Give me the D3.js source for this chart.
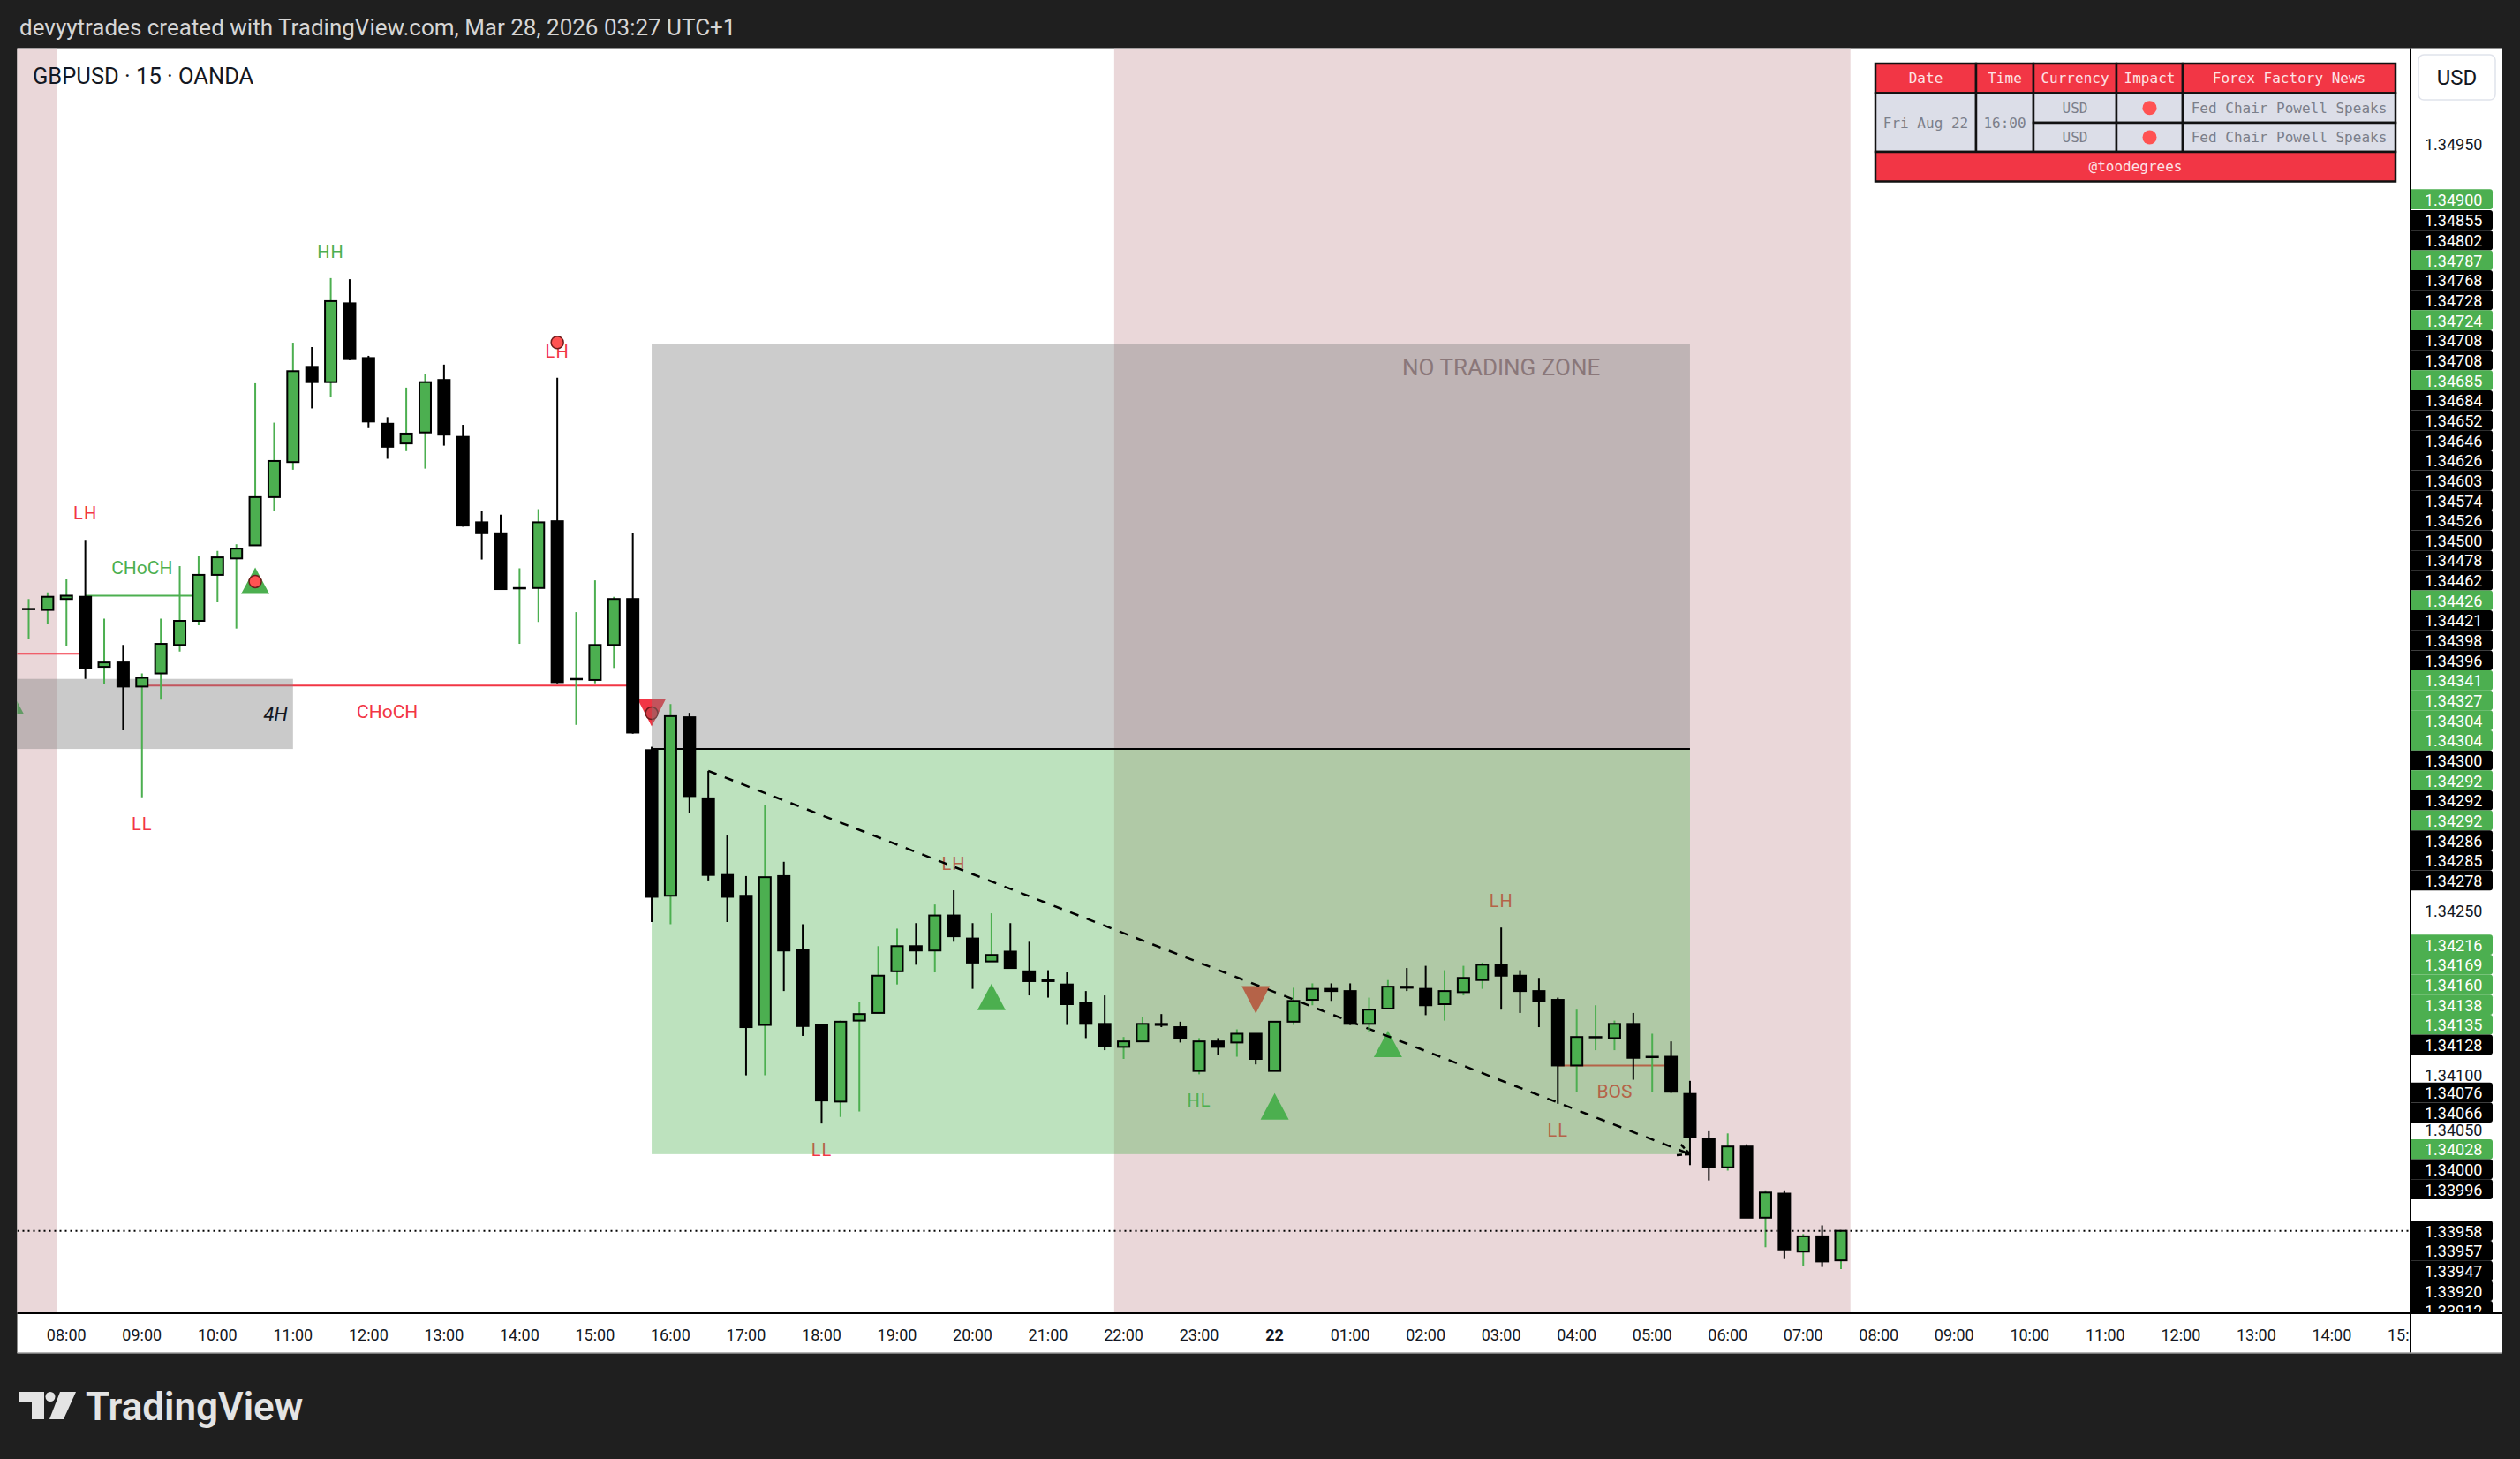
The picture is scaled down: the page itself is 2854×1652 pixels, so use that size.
<!DOCTYPE html>
<html><head><meta charset="utf-8">
<script src="https://cdn.jsdelivr.net/npm/d3@7"></script>
<style>html,body{margin:0;padding:0;background:#1f1f1f;}svg{display:block}</style>
</head><body>
<svg id="c" width="2854" height="1652"></svg>
<script>
// ---------------- DATA ----------------
// 15-minute bars, GBPUSD, bar 0 = Thu 21 Aug 07:30, last bar = Fri 22 Aug 07:30
const FIRST_BAR = Date.UTC(2025, 7, 21, 7, 30);
const BAR_MIN = 15;
const opens  = [1.34526,1.34525,1.34535,1.34537,1.34473,1.34477,1.34455,1.34467,1.34493,1.34515,1.34557,1.34572,1.34584,1.34628,1.34660,1.34747,1.34733,1.34805,1.34755,1.34695,1.34677,1.34687,1.34735,1.34683,1.34605,1.34595,1.34545,1.34545,1.34606,1.34462,1.34461,1.34493,1.34535,1.34397,1.34264,1.34427,1.34353,1.34283,1.34264,1.34146,1.34282,1.34215,1.34146,1.34076,1.34150,1.34157,1.34195,1.34218,1.34214,1.34246,1.34225,1.34204,1.34213,1.34195,1.34187,1.34183,1.34166,1.34147,1.34126,1.34131,1.34147,1.34144,1.34104,1.34131,1.34130,1.34138,1.34104,1.34149,1.34169,1.34179,1.34177,1.34147,1.34161,1.34181,1.34179,1.34165,1.34176,1.34187,1.34201,1.34191,1.34177,1.34169,1.34109,1.34135,1.34134,1.34147,1.34117,1.34117,1.34083,1.34042,1.34016,1.34035,1.33970,1.33992,1.33939,1.33953,1.33931];
const highs  = [1.34535,1.34541,1.34553,1.34589,1.34517,1.34493,1.34467,1.34517,1.34565,1.34574,1.34579,1.34585,1.34732,1.34696,1.34769,1.34765,1.34828,1.34827,1.34757,1.34701,1.34728,1.34740,1.34749,1.34694,1.34615,1.34612,1.34563,1.34617,1.34737,1.34523,1.34552,1.34537,1.34595,1.34400,1.34439,1.34431,1.34378,1.34319,1.34282,1.34347,1.34295,1.34238,1.34146,1.34150,1.34167,1.34218,1.34234,1.34239,1.34256,1.34269,1.34239,1.34248,1.34239,1.34222,1.34196,1.34194,1.34177,1.34173,1.34135,1.34153,1.34156,1.34149,1.34134,1.34134,1.34142,1.34138,1.34149,1.34180,1.34184,1.34184,1.34184,1.34171,1.34187,1.34198,1.34200,1.34196,1.34200,1.34203,1.34235,1.34196,1.34189,1.34171,1.34160,1.34164,1.34150,1.34157,1.34138,1.34131,1.34095,1.34049,1.34047,1.34037,1.33995,1.33995,1.33955,1.33963,1.33958];
const lows   = [1.34498,1.34512,1.34492,1.34462,1.34457,1.34415,1.34354,1.34443,1.34487,1.34511,1.34532,1.34508,1.34584,1.34615,1.34653,1.34709,1.34719,1.34753,1.34691,1.34663,1.34670,1.34654,1.34675,1.34601,1.34571,1.34544,1.34494,1.34514,1.34458,1.34420,1.34458,1.34472,1.34412,1.34240,1.34238,1.34340,1.34278,1.34240,1.34100,1.34100,1.34177,1.34136,1.34056,1.34062,1.34067,1.34157,1.34183,1.34201,1.34194,1.34222,1.34179,1.34204,1.34198,1.34173,1.34171,1.34146,1.34134,1.34123,1.34115,1.34131,1.34144,1.34130,1.34101,1.34119,1.34117,1.34110,1.34104,1.34146,1.34164,1.34168,1.34146,1.34140,1.34161,1.34177,1.34155,1.34150,1.34173,1.34179,1.34160,1.34157,1.34144,1.34074,1.34085,1.34123,1.34123,1.34096,1.34085,1.34084,1.34018,1.34004,1.34013,1.33970,1.33943,1.33933,1.33926,1.33925,1.33923];
const closes = [1.34526,1.34537,1.34538,1.34472,1.34477,1.34455,1.34463,1.34494,1.34515,1.34557,1.34573,1.34581,1.34628,1.34661,1.34743,1.34733,1.34807,1.34754,1.34697,1.34674,1.34686,1.34733,1.34685,1.34602,1.34595,1.34544,1.34545,1.34605,1.34459,1.34462,1.34493,1.34535,1.34413,1.34263,1.34428,1.34355,1.34283,1.34263,1.34144,1.34281,1.34214,1.34145,1.34077,1.34149,1.34156,1.34191,1.34218,1.34214,1.34246,1.34227,1.34203,1.34210,1.34198,1.34186,1.34186,1.34165,1.34147,1.34127,1.34131,1.34147,1.34146,1.34134,1.34131,1.34126,1.34138,1.34115,1.34149,1.34168,1.34179,1.34177,1.34147,1.34160,1.34181,1.34180,1.34164,1.34177,1.34189,1.34201,1.34191,1.34177,1.34168,1.34109,1.34135,1.34135,1.34147,1.34116,1.34117,1.34085,1.34044,1.34016,1.34035,1.33970,1.33993,1.33941,1.33953,1.33930,1.33958];

const lastPrice = 1.33958;

// price-scale labels (indicator levels), top to bottom; G = green tag, B = black tag
const tagValues = [1.34900,1.34855,1.34802,1.34787,1.34768,1.34728,1.34724,1.34708,1.34708,1.34685,1.34684,1.34652,1.34646,1.34626,1.34603,1.34574,1.34526,1.34500,1.34478,1.34462,1.34426,1.34421,1.34398,1.34396,1.34341,1.34327,1.34304,1.34304,1.34300,1.34292,1.34292,1.34292,1.34286,1.34285,1.34278,1.34216,1.34169,1.34160,1.34138,1.34135,1.34128,1.34076,1.34066,1.34028,1.34000,1.33996,1.33958,1.33957,1.33947,1.33920,1.33912];
const tagKinds  = ["G","B","B","G","B","B","G","B","B","G","B","B","B","B","B","B","B","B","B","B","G","B","B","B","G","G","G","G","B","G","B","G","B","B","B","G","G","G","G","G","B","B","B","G","B","B","B","B","B","B","B"];
const priceTickStep = 0.0005;

// sessions shaded (first bar index, last bar index)
const sessionStart = [-3, 58];
const sessionEnd   = [1, 96];

// swing labels
const swingBars   = [3, 6, 16, 28, 42, 49, 62, 78, 81];
const swingTexts  = ["LH","LL","HH","LH","LL","LH","HL","LH","LL"];

// structure breaks
const structText  = ["CHoCH","CHoCH","BOS"];
const structFrom  = [3, 6, 81];
const structTo    = [9, 32, 87];
const structPrice = [1.34538, 1.34456, 1.34109];
const structBull  = [true, false, false];
const prevLevelPrice = 1.34485, prevLevelTo = 3;

// signal markers
const upMarkBars = [-1, 12, 51, 66, 72];
const upMarkLow0 = 1.34474; // low of the 07:15 bar (left of view)
const downMarkBars = [33, 65];
const dotBars = [12, 28, 33];

// 4H zone
const zoneTop = 1.34462, zoneBottom = 1.34398, zoneToBar = 14, zoneLabel = "4H";

// short position
const posFrom = 33, posTo = 88;
const posEntry = 1.34398, posStop = 1.34768, posTarget = 1.34028;
const posLabel = "NO TRADING ZONE";
const trendFrom = 36, trendFromPrice = 1.34378, trendTo = 88, trendToPrice = 1.34028;

// news table
const tableHead = ["Date","Time","Currency","Impact","Forex Factory News"];
const tableDate = "Fri Aug 22", tableTime = "16:00";
const tableCcy = ["USD","USD"];
const tableNews = ["Fed Chair Powell Speaks","Fed Chair Powell Speaks"];
const tableFoot = "@toodegrees";

const titleText = "devyytrades created with TradingView.com, Mar 28, 2026 03:27 UTC+1";
const symbolText = "GBPUSD \u00b7 15 \u00b7 OANDA";

// ---------------- LAYOUT ----------------
const W = 2854, H = 1652;
const PL = 19.5, PR = 2730, PT = 54.5, PB = 1487, AXB = 1532, RR = 2834;
const FONT = 'Roboto, "Liberation Sans", Arial, sans-serif';
const GREEN = "#4caf50", RED = "#f23645";

const tAt = i => new Date(FIRST_BAR + i * BAR_MIN * 60000);
const bars = opens.map((o, i) => ({i, t: tAt(i), o, h: highs[i], l: lows[i], c: closes[i]}));
const x = d3.scaleUtc().domain([tAt(0), tAt(bars.length - 1)]).range([32.5, 2085]);
const y = d3.scaleLinear().domain([1.3425, 1.3495]).range([1031.6, 163.6]);
const bw = x(tAt(1)) - x(tAt(0));
const xi = i => x(tAt(i));

const svg = d3.select("#c");
svg.append("rect").attr("width", W).attr("height", H).attr("fill", "#1f1f1f");
svg.append("rect").attr("x", PL).attr("y", PT).attr("width", RR - PL).attr("height", AXB - PT).attr("fill", "#fff");

const defs = svg.append("defs");
defs.append("clipPath").attr("id", "plot").append("rect").attr("x", PL).attr("y", PT).attr("width", PR - PL).attr("height", PB - PT);
defs.append("clipPath").attr("id", "taxis").append("rect").attr("x", PL).attr("y", PB).attr("width", PR - PL).attr("height", AXB - PB);
defs.append("clipPath").attr("id", "paxis").append("rect").attr("x", PR).attr("y", PT).attr("width", RR - PR).attr("height", PB - PT);

const g = svg.append("g").attr("clip-path", "url(#plot)");

// sessions
g.selectAll("rect.sess").data(sessionStart).join("rect")
  .attr("x", (s) => xi(s) - bw / 2)
  .attr("width", (s, k) => xi(sessionEnd[k]) + bw / 2 - (xi(s) - bw / 2))
  .attr("y", PT).attr("height", PB - PT).attr("fill", "#ead7d9");

// previous level line
g.append("line").attr("x1", xi(-5)).attr("x2", xi(prevLevelTo)).attr("y1", y(prevLevelPrice)).attr("y2", y(prevLevelPrice))
  .attr("stroke", RED).attr("stroke-width", 2);

// structure lines + labels
structText.forEach((t, k) => {
  const col = structBull[k] ? GREEN : RED;
  const yy = y(structPrice[k]);
  g.append("line").attr("x1", xi(structFrom[k])).attr("x2", xi(structTo[k])).attr("y1", yy).attr("y2", yy)
    .attr("stroke", col).attr("stroke-width", 2);
  g.append("text").attr("x", (xi(structFrom[k]) + xi(structTo[k])) / 2).attr("y", yy + (structBull[k] ? -31 : 30))
    .attr("text-anchor", "middle").attr("dominant-baseline", "central").attr("fill", col)
    .attr("font-family", FONT).attr("font-size", 21).text(t);
});

// swing labels
swingBars.forEach((b, k) => {
  const t = swingTexts[k];
  const high = t[1] === "H";
  const col = (t === "HH" || t === "HL") ? GREEN : RED;
  const yy = high ? y(highs[b]) - 30 : y(lows[b]) + 30;
  g.append("text").attr("x", xi(b)).attr("y", yy).attr("text-anchor", "middle").attr("dominant-baseline", "central")
    .attr("fill", col).attr("font-family", FONT).attr("font-size", 20).attr("letter-spacing", 1).text(t);
});

// markers
upMarkBars.forEach(b => {
  const low = b >= 0 ? lows[b] : upMarkLow0;
  const cx = xi(b), top = y(low) + 25;
  g.append("path").attr("d", `M${cx},${top} L${cx + 16},${top + 30} L${cx - 16},${top + 30} Z`).attr("fill", GREEN);
});
downMarkBars.forEach(b => {
  const cx = xi(b), bot = y(highs[b]) - 23;
  g.append("path").attr("d", `M${cx},${bot} L${cx + 16},${bot - 31} L${cx - 16},${bot - 31} Z`).attr("fill", RED);
});
dotBars.forEach(b => {
  let cy;
  if (upMarkBars.includes(b)) cy = y(lows[b]) + 25 + 16;
  else if (downMarkBars.includes(b)) cy = y(highs[b]) - 23 - 15;
  else cy = y(highs[b]) - 40;
  const ring = downMarkBars.includes(b);
  g.append("circle").attr("cx", xi(b)).attr("cy", cy).attr("r", 7)
    .attr("fill", ring ? "#d33a44" : "#ff5252").attr("stroke", "#6e1c1c").attr("stroke-width", 1.5);
});

// 4H zone
g.append("rect").attr("x", xi(-10)).attr("width", xi(zoneToBar) - xi(-10)).attr("y", y(zoneTop)).attr("height", y(zoneBottom) - y(zoneTop))
  .attr("fill", "rgba(128,128,128,0.42)");
g.append("text").attr("x", xi(zoneToBar) - 6).attr("y", (y(zoneTop) + y(zoneBottom)) / 2).attr("text-anchor", "end")
  .attr("dominant-baseline", "central").attr("font-family", FONT).attr("font-style", "italic").attr("font-size", 22)
  .attr("fill", "#131722").text(zoneLabel);

// position
g.append("rect").attr("x", xi(posFrom)).attr("width", xi(posTo) - xi(posFrom)).attr("y", y(posStop)).attr("height", y(posEntry) - y(posStop))
  .attr("fill", "rgba(128,128,128,0.4)");
g.append("rect").attr("x", xi(posFrom)).attr("width", xi(posTo) - xi(posFrom)).attr("y", y(posEntry)).attr("height", y(posTarget) - y(posEntry))
  .attr("fill", "rgba(76,175,80,0.37)");
g.append("line").attr("x1", xi(posFrom)).attr("x2", xi(posTo)).attr("y1", y(posEntry)).attr("y2", y(posEntry))
  .attr("stroke", "#000").attr("stroke-width", 2);

// trend arrow
{
  const x1 = xi(trendFrom), y1 = y(trendFromPrice), x2 = xi(trendTo), y2 = y(trendToPrice);
  g.append("line").attr("x1", x1).attr("y1", y1).attr("x2", x2).attr("y2", y2)
    .attr("stroke", "#000").attr("stroke-width", 2.5).attr("stroke-dasharray", "10,10");
  const a = Math.atan2(y2 - y1, x2 - x1), L = 18;
  [0.45, -0.45].forEach(d => {
    g.append("line").attr("x1", x2).attr("y1", y2)
      .attr("x2", x2 - L * Math.cos(a + d)).attr("y2", y2 - L * Math.sin(a + d))
      .attr("stroke", "#000").attr("stroke-width", 2.5).attr("stroke-dasharray", "6,3");
  });
}

// candles
const cg = g.append("g");
bars.forEach(d => {
  const up = d.c >= d.o;
  const cx = x(d.t);
  cg.append("line").attr("x1", cx).attr("x2", cx).attr("y1", y(d.h)).attr("y2", y(d.l))
    .attr("stroke", up ? GREEN : "#000").attr("stroke-width", 2);
  const top = y(Math.max(d.o, d.c)), bot = y(Math.min(d.o, d.c));
  cg.append("rect").attr("x", cx - 6.5).attr("width", 13).attr("y", top).attr("height", Math.max(bot - top, 0.5))
    .attr("fill", up ? GREEN : "#000").attr("stroke", "#000").attr("stroke-width", 2);
});

// position label
g.append("text").attr("x", xi(78)).attr("y", y(posStop) + 27).attr("text-anchor", "middle").attr("dominant-baseline", "central")
  .attr("font-family", FONT).attr("font-size", 26).attr("fill", "#8a7779").text(posLabel);

// last price line
g.append("line").attr("x1", PL).attr("x2", PR).attr("y1", y(lastPrice)).attr("y2", y(lastPrice))
  .attr("stroke", "#000").attr("stroke-width", 2).attr("stroke-dasharray", "2,4");

// ---------- time axis ----------
const ta = svg.append("g").attr("clip-path", "url(#taxis)");
const hours = d3.utcHour.range(new Date(Date.UTC(2025, 7, 21, 8)), new Date(Date.UTC(2025, 7, 22, 16)));
ta.selectAll("text").data(hours).join("text")
  .attr("x", d => x(d)).attr("y", 1511).attr("text-anchor", "middle").attr("dominant-baseline", "central")
  .attr("font-family", FONT).attr("font-size", 18).attr("fill", "#131722")
  .attr("font-weight", d => d.getUTCHours() === 0 ? 700 : 400)
  .text(d => d.getUTCHours() === 0 ? d3.utcFormat("%-d")(d) : d3.utcFormat("%H:%M")(d));

// ---------- price axis ----------
const pa = svg.append("g").attr("clip-path", "url(#paxis)");
const TH = 22.65;
const tagPos = tagValues.map(v => y(v));
const cur = tagValues.indexOf(lastPrice);
for (let k = cur - 1; k >= 0; k--) tagPos[k] = Math.min(y(tagValues[k]), tagPos[k + 1] - TH);
for (let k = cur + 1; k < tagValues.length; k++) tagPos[k] = Math.max(y(tagValues[k]), tagPos[k - 1] + TH);
const fmt = d3.format(".5f");
const ticks = d3.range(1.3385, 1.3505 + 1e-9, priceTickStep);
ticks.forEach(v => {
  const yy = y(v);
  if (yy < 130 || yy > PB - 8) return;
  if (tagPos.some(p => Math.abs(p - yy) < 15)) return;
  pa.append("text").attr("x", 2746).attr("y", yy).attr("dominant-baseline", "central")
    .attr("font-family", FONT).attr("font-size", 18).attr("fill", "#131722").text(fmt(v));
});
tagValues.forEach((v, k) => {
  const yy = tagPos[k], x0 = 2731, x1 = 2823, h2 = TH / 2, r = 3;
  pa.append("path").attr("d", `M${x0},${yy - h2} H${x1 - r} Q${x1},${yy - h2} ${x1},${yy - h2 + r} V${yy + h2 - r} Q${x1},${yy + h2} ${x1 - r},${yy + h2} H${x0} Z`)
    .attr("fill", tagKinds[k] === "G" ? GREEN : "#000");
  pa.append("text").attr("x", 2746).attr("y", yy + 0.5).attr("dominant-baseline", "central")
    .attr("font-family", FONT).attr("font-size", 18).attr("fill", "#fff").text(fmt(v));
});

// frame lines
svg.append("line").attr("x1", PL).attr("x2", RR).attr("y1", PB).attr("y2", PB).attr("stroke", "#000").attr("stroke-width", 2);
svg.append("line").attr("x1", PR).attr("x2", PR).attr("y1", PT).attr("y2", AXB).attr("stroke", "#000").attr("stroke-width", 2);
svg.append("line").attr("x1", PL).attr("x2", RR).attr("y1", AXB).attr("y2", AXB).attr("stroke", "#9a9a9a").attr("stroke-width", 1.5);

// USD button
svg.append("rect").attr("x", 2739).attr("y", 62).attr("width", 87).attr("height", 51).attr("rx", 6)
  .attr("fill", "#fff").attr("stroke", "#e0e3eb").attr("stroke-width", 1.5);
svg.append("text").attr("x", 2782.5).attr("y", 88).attr("text-anchor", "middle").attr("dominant-baseline", "central")
  .attr("font-family", FONT).attr("font-size", 24).attr("fill", "#131722").text("USD");

// ---------- news table ----------
{
  const cols = [2124, 2238, 2303, 2397, 2472, 2713];
  const rows = [72, 105.5, 139, 172, 205.5];
  const tg = svg.append("g").attr("font-family", '"DejaVu Sans Mono", monospace').attr("font-size", 16);
  const cell = (x0, x1, y0, y1, fill) => tg.append("rect").attr("x", x0).attr("y", y0).attr("width", x1 - x0).attr("height", y1 - y0)
    .attr("fill", fill).attr("stroke", "#111").attr("stroke-width", 2.5);
  const txt = (xx, yy, s, col) => tg.append("text").attr("x", xx).attr("y", yy).attr("text-anchor", "middle")
    .attr("dominant-baseline", "central").attr("fill", col).text(s);
  const BODY = "#dcdee8", TXT = "#7b7e8a", HTXT = "#fde3e5";
  tableHead.forEach((h, k) => { cell(cols[k], cols[k + 1], rows[0], rows[1], RED); txt((cols[k] + cols[k + 1]) / 2, (rows[0] + rows[1]) / 2, h, HTXT); });
  cell(cols[0], cols[1], rows[1], rows[3], BODY); txt((cols[0] + cols[1]) / 2, rows[2], tableDate, TXT);
  cell(cols[1], cols[2], rows[1], rows[3], BODY); txt((cols[1] + cols[2]) / 2, rows[2], tableTime, TXT);
  tableCcy.forEach((c, r) => {
    const y0 = rows[1 + r], y1 = rows[2 + r], ym = (y0 + y1) / 2;
    cell(cols[2], cols[3], y0, y1, BODY); txt((cols[2] + cols[3]) / 2, ym, c, TXT);
    cell(cols[3], cols[4], y0, y1, BODY); tg.append("circle").attr("cx", (cols[3] + cols[4]) / 2).attr("cy", ym).attr("r", 8).attr("fill", "#ff5252");
    cell(cols[4], cols[5], y0, y1, BODY); txt((cols[4] + cols[5]) / 2, ym, tableNews[r], TXT);
  });
  cell(cols[0], cols[5], rows[3], rows[4], RED); txt((cols[0] + cols[5]) / 2, (rows[3] + rows[4]) / 2, tableFoot, HTXT);
}

// ---------- titles ----------
svg.append("text").attr("x", 22).attr("y", 31).attr("dominant-baseline", "central").attr("font-family", FONT)
  .attr("font-size", 26).attr("fill", "#d6d6d6").text(titleText);
svg.append("text").attr("x", 37).attr("y", 86).attr("dominant-baseline", "central").attr("font-family", FONT)
  .attr("font-size", 25.5).attr("fill", "#131722").text(symbolText);

// TradingView logo
{
  const lg = svg.append("g").attr("fill", "#e4e4e4");
  lg.append("path").attr("d", "M22,1576 H50 V1607 H36 V1588 H22 Z");
  lg.append("circle").attr("cx", 57).attr("cy", 1581.5).attr("r", 5.5);
  lg.append("path").attr("d", "M68,1576 H86 L72,1607 H56 Z");
  svg.append("text").attr("x", 97).attr("y", 1593).attr("dominant-baseline", "central").attr("font-family", FONT)
    .attr("font-weight", 600).attr("font-size", 44).attr("fill", "#e4e4e4").text("TradingView");
}
</script>
</body></html>
